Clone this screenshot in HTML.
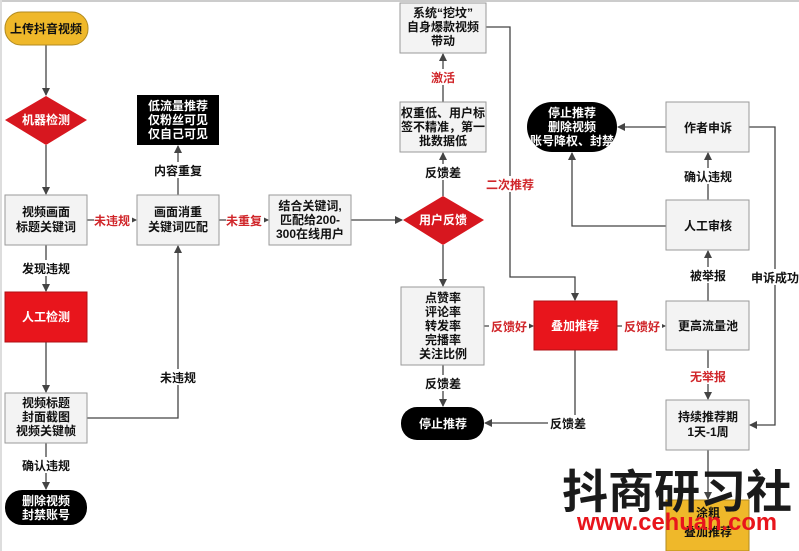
<!DOCTYPE html>
<html><head><meta charset="utf-8"><style>
html,body{margin:0;padding:0;background:#fff;}
svg{display:block;font-family:"Liberation Sans","Noto Sans CJK SC",sans-serif;}
.b{fill:#f3f3f3;stroke:#9a9a9a;stroke-width:1;}
.t{font-size:12px;font-weight:bold;fill:#111;text-anchor:middle;}
.w{font-size:12px;font-weight:bold;fill:#fff;text-anchor:middle;}
.r{font-size:12px;font-weight:bold;fill:#d0262a;text-anchor:middle;}
.l{stroke:#444;stroke-width:1.3;fill:none;marker-end:url(#a);}
.n{stroke:#444;stroke-width:1.3;fill:none;}
</style></head><body>
<svg width="799" height="551" viewBox="0 0 799 551">
<defs><marker id="a" markerWidth="8" markerHeight="8" refX="7" refY="4" orient="auto" markerUnits="userSpaceOnUse"><path d="M0,0 L8,4 L0,8 z" fill="#444"/></marker></defs>
<rect x="0" y="0" width="799" height="2" fill="#ccc"/>
<rect x="0" y="0" width="2" height="551" fill="#ddd"/>
<!-- edges -->
<path class="l" d="M46,45 V95"/>
<path class="l" d="M46,145 V194"/>
<path class="l" d="M46,245 V291"/>
<path class="l" d="M46,342 V392"/>
<path class="l" d="M46,443 V489"/>
<path class="l" d="M87,220 H136"/>
<path class="l" d="M87,418 H178 V246"/>
<path class="l" d="M178,195 V146"/>
<path class="l" d="M219,220 H268"/>
<path class="l" d="M351,220 H402"/>
<path class="l" d="M443,196 V153"/>
<path class="l" d="M443,102 V54"/>
<path class="l" d="M486,27 H510 V277 H575 V300"/>
<path class="l" d="M443,245 V286"/>
<path class="l" d="M484,326 H533"/>
<path class="l" d="M443,365 V406"/>
<path class="l" d="M575,350 V423 H485"/>
<path class="l" d="M617,326 H665"/>
<path class="l" d="M708,301 V251"/>
<path class="l" d="M708,350 V399"/>
<path class="l" d="M708,200 V153"/>
<path class="l" d="M666,226 H572 V153"/>
<path class="l" d="M666,127 H618"/>
<path class="l" d="M749,127 H775 V425 H750"/>
<path class="l" d="M708,450 V499"/>
<!-- edge labels (white bg) -->
<g>
<rect x="20" y="260" width="52" height="16" fill="#fff"/><text class="t" x="46" y="273">发现违规</text>
<rect x="20" y="457" width="52" height="16" fill="#fff"/><text class="t" x="46" y="470">确认违规</text>
<rect x="94" y="212" width="38" height="16" fill="#fff"/><text class="r" x="112" y="225">未违规</text>
<rect x="158" y="369" width="40" height="16" fill="#fff"/><text class="t" x="178" y="382">未违规</text>
<rect x="152" y="162" width="52" height="16" fill="#fff"/><text class="t" x="178" y="175">内容重复</text>
<rect x="226" y="212" width="38" height="16" fill="#fff"/><text class="r" x="244" y="225">未重复</text>
<rect x="424" y="164" width="38" height="16" fill="#fff"/><text class="t" x="443" y="177">反馈差</text>
<rect x="428" y="69" width="30" height="16" fill="#fff"/><text class="r" x="443" y="82">激活</text>
<rect x="484" y="176" width="52" height="16" fill="#fff"/><text class="r" x="510" y="189">二次推荐</text>
<rect x="489" y="318" width="40" height="16" fill="#fff"/><text class="r" x="509" y="331">反馈好</text>
<rect x="424" y="375" width="38" height="16" fill="#fff"/><text class="t" x="443" y="388">反馈差</text>
<rect x="548" y="415" width="40" height="16" fill="#fff"/><text class="t" x="568" y="428">反馈差</text>
<rect x="622" y="318" width="40" height="16" fill="#fff"/><text class="r" x="642" y="331">反馈好</text>
<rect x="689" y="267" width="38" height="16" fill="#fff"/><text class="t" x="708" y="280">被举报</text>
<rect x="689" y="368" width="38" height="16" fill="#fff"/><text class="r" x="708" y="381">无举报</text>
<rect x="682" y="168" width="52" height="16" fill="#fff"/><text class="t" x="708" y="181">确认违规</text>
<rect x="750" y="269" width="50" height="16" fill="#fff"/><text class="t" x="775" y="282">申诉成功</text>
</g>
<!-- nodes -->
<rect x="5" y="12" width="83" height="33" rx="16" fill="#efb82a" stroke="#b08a20"/>
<text class="t" x="46" y="33">上传抖音视频</text>
<polygon points="46,96 87,120 46,145 5,120" fill="#d7171f"/>
<text class="w" x="46" y="124">机器检测</text>
<rect class="b" x="5" y="195" width="82" height="50"/>
<text class="t" x="46" y="216">视频画面</text><text class="t" x="46" y="231">标题关键词</text>
<rect x="5" y="292" width="82" height="50" fill="#e8151c" stroke="#b01015"/>
<text class="w" x="46" y="321">人工检测</text>
<rect class="b" x="5" y="393" width="82" height="50"/>
<text class="t" x="46" y="407">视频标题</text><text class="t" x="46" y="421">封面截图</text><text class="t" x="46" y="435">视频关键帧</text>
<rect x="5" y="490" width="82" height="35" rx="17" fill="#000"/>
<text class="w" x="46" y="505">删除视频</text><text class="w" x="46" y="519">封禁账号</text>
<rect x="137" y="95" width="82" height="50" fill="#000"/>
<text class="w" x="178" y="110">低流量推荐</text><text class="w" x="178" y="124">仅粉丝可见</text><text class="w" x="178" y="138">仅自己可见</text>
<rect class="b" x="137" y="195" width="82" height="50"/>
<text class="t" x="178" y="216">画面消重</text><text class="t" x="178" y="231">关键词匹配</text>
<rect class="b" x="269" y="195" width="82" height="50"/>
<text class="t" x="310" y="210">结合关键词,</text><text class="t" x="310" y="224">匹配给200-</text><text class="t" x="310" y="238">300在线用户</text>
<polygon points="443,196 484,220 443,245 403,220" fill="#d7171f"/>
<text class="w" x="443" y="224">用户反馈</text>
<rect class="b" x="400" y="102" width="86" height="50"/>
<text class="t" x="443" y="117">权重低、用户标</text><text class="t" x="443" y="131">签不精准，第一</text><text class="t" x="443" y="145">批数据低</text>
<rect class="b" x="400" y="3" width="86" height="50"/>
<text class="t" x="443" y="17">系统“挖坟”</text><text class="t" x="443" y="31">自身爆款视频</text><text class="t" x="443" y="45">带动</text>
<rect class="b" x="401" y="287" width="83" height="78"/>
<text class="t" x="443" y="302">点赞率</text><text class="t" x="443" y="316">评论率</text><text class="t" x="443" y="330">转发率</text><text class="t" x="443" y="344">完播率</text><text class="t" x="443" y="358">关注比例</text>
<rect x="401" y="407" width="83" height="33" rx="16" fill="#000"/>
<text class="w" x="443" y="428">停止推荐</text>
<rect x="534" y="301" width="83" height="49" fill="#e8151c" stroke="#b01015"/>
<text class="w" x="575" y="330">叠加推荐</text>
<rect class="b" x="666" y="301" width="83" height="49"/>
<text class="t" x="708" y="330">更高流量池</text>
<rect class="b" x="666" y="400" width="83" height="50"/>
<text class="t" x="708" y="421">持续推荐期</text><text class="t" x="708" y="436">1天-1周</text>
<rect x="666" y="500" width="83" height="51" fill="#efb82a" stroke="#b08a20"/>
<text class="t" x="708" y="517">涂粗</text><text class="t" x="708" y="536">叠加推荐</text>
<rect class="b" x="666" y="200" width="83" height="50"/>
<text class="t" x="708" y="230">人工审核</text>
<rect class="b" x="666" y="102" width="83" height="50"/>
<text class="t" x="708" y="132">作者申诉</text>
<rect x="527" y="102" width="90" height="50" rx="25" fill="#000"/>
<text class="w" x="572" y="117">停止推荐</text><text class="w" x="572" y="131">删除视频</text><text class="w" x="572" y="145">账号降权、封禁</text>
<!-- watermark -->
<text x="677" y="508" font-size="46" font-weight="bold" fill="#1a1a1a" text-anchor="middle" font-family="Noto Sans CJK SC,sans-serif">抖商研习社</text>
<text x="677" y="530" font-size="24" font-weight="bold" fill="#e8151c" text-anchor="middle" textLength="200" lengthAdjust="spacingAndGlyphs">www.cehuan.com</text>
</svg>
</body></html>
